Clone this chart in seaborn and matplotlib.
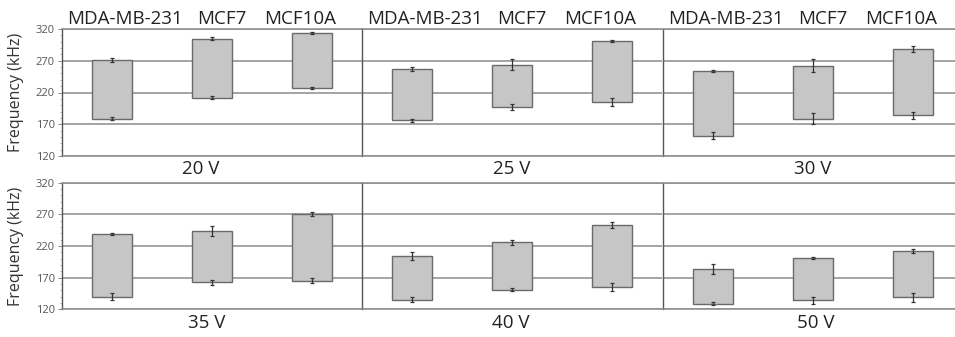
import matplotlib
matplotlib.use("Agg")
import matplotlib.pyplot as plt
import pandas as pd
import seaborn as sns
from matplotlib.ticker import MultipleLocator

cells = ["MDA-MB-231", "MCF7", "MCF10A"]
voltages = ["20 V", "25 V", "30 V", "35 V", "40 V", "50 V"]

# upper / lower end of each floating bar (kHz), columns follow `cells`
bar_top = [
    [271, 305, 314],
    [257, 264, 301],
    [254, 262, 288],
    [239, 244, 270],
    [204, 226, 253],
    [184, 201, 212],
]
bar_bottom = [
    [179, 212, 227],
    [176, 197, 205],
    [152, 179, 184],
    [140, 163, 165],
    [135, 151, 155],
    [129, 134, 139],
]
# error on each end (kHz)
top_err = [
    [3, 2, 2],
    [3, 8, 2],
    [2, 10, 5],
    [2, 8, 3],
    [6, 4, 5],
    [8, 2, 3],
]
bottom_err = [
    [3, 2, 2],
    [3, 5, 7],
    [6, 9, 6],
    [5, 4, 4],
    [4, 2, 6],
    [2, 5, 7],
]

sns.set_theme(style="white")
plt.rcParams["font.family"] = ["Open Sans", "DejaVu Sans"]

W, H = 955, 337
fig = plt.figure(figsize=(W / 100, H / 100), dpi=100)

panel_left = [62, 362, 663]
row_top = [29, 182.7]
row_bottom = [156, 309.3]
# where the voltage label sits, relative to panel left (px)
volt_x = [139, 149.5, 150, 145, 148.5, 153]

grid_col = "#8c8c8c"
edge_col = "#6a6a6a"

for i, volt in enumerate(voltages):
    r, c = divmod(i, 3)
    x0 = panel_left[c]
    ax = fig.add_axes([x0 / W, 1 - row_bottom[r] / H, 300 / W,
                       (row_bottom[r] - row_top[r]) / H])

    df = pd.DataFrame({
        "cell": cells,
        "top": bar_top[i],
        "bottom": bar_bottom[i],
    })
    df["span"] = df["top"] - df["bottom"]

    sns.barplot(data=df, x="cell", y="span", order=cells, bottom=df["bottom"],
                width=0.4, color="#c6c6c6", saturation=1, errorbar=None,
                edgecolor=edge_col, linewidth=1.0, ax=ax)

    xs = range(len(cells))
    for ends, errs in [(df["top"], top_err[i]), (df["bottom"], bottom_err[i])]:
        ax.errorbar(xs, ends, yerr=errs, fmt="none", ecolor="#333333",
                    elinewidth=0.9, capsize=1.5, capthick=0.9, zorder=5)

    ax.set_ylim(120, 320)
    ax.set_xlim(-0.5, 2.5)
    ax.set_xlabel("")
    ax.set_ylabel("")
    ax.set_xticks([])
    ax.set_yticks([120, 170, 220, 270, 320])
    ax.yaxis.grid(True, color=grid_col, linewidth=1.1)
    ax.set_axisbelow(True)

    for side in ["top", "bottom"]:
        ax.spines[side].set_visible(True)
        ax.spines[side].set_color(grid_col)
        ax.spines[side].set_linewidth(1.1)
    ax.spines["right"].set_visible(False)
    ax.spines["left"].set_visible(True)
    ax.spines["left"].set_color("#555555")
    ax.spines["left"].set_linewidth(1.0)

    if c == 0:
        ax.yaxis.set_minor_locator(MultipleLocator(10))
        ax.tick_params(axis="y", which="major", left=True, length=3, width=0.6,
                       color="#777777", labelsize=8, labelcolor="#555555", pad=2)
        ax.tick_params(axis="y", which="minor", left=True, length=1.8, width=0.5,
                       color="#999999")
    else:
        ax.tick_params(axis="y", which="both", left=False, labelleft=False)

    # voltage label under the panel
    fig.text((x0 + volt_x[i]) / W, 1 - (row_bottom[r] + 13.5) / H, volt,
             ha="center", va="center", fontsize=13.5, color="#222222")

    # cell line names above the top row
    if r == 0:
        for cx, name in zip([63, 160, 238], cells):
            fig.text((x0 + cx) / W, 1 - 18.5 / H, name, ha="center",
                     va="center", fontsize=13.5, color="#222222")

for r in range(2):
    fig.text(16.5 / W, 1 - (row_top[r] + row_bottom[r]) / 2 / H, "Frequency (kHz)",
             rotation=90, ha="center", va="center", fontsize=11.5, color="#333333")

fig.savefig("out.png", dpi=100)
